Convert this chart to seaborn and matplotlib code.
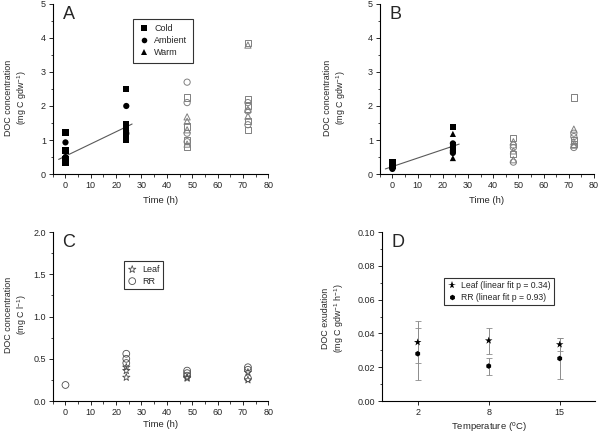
import numpy as np
import pandas as pd
import matplotlib
matplotlib.use("Agg")
import matplotlib.pyplot as plt
import seaborn as sns

# --- Panel A: DOC per gdw, filled = 0-24 h, open = 48-72 h ---
a_cold_t = [0, 0, 0, 0, 24, 24, 24, 24, 24]
a_cold_y = [1.22, 0.69, 0.45, 0.33, 2.5, 1.47, 1.3, 1.15, 1.0]
a_amb_t = [0, 0, 0, 24, 24]
a_amb_y = [0.93, 0.5, 0.4, 2.0, 1.2]
a_warm_t = [0, 0, 24, 24]
a_warm_y = [0.42, 0.36, 1.35, 1.25]
a_cold_open_t = [48, 48, 48, 48, 72, 72, 72, 72, 72]
a_cold_open_y = [2.25, 1.4, 1.0, 0.8, 3.86, 2.2, 2.0, 1.55, 1.3]
a_amb_open_t = [48, 48, 48, 48, 72, 72, 72]
a_amb_open_y = [2.7, 2.1, 1.2, 0.95, 2.1, 1.85, 1.45]
a_warm_open_t = [48, 48, 48, 48, 72, 72, 72]
a_warm_open_y = [1.68, 1.55, 1.3, 0.88, 3.79, 1.9, 1.7]
a_fit_x = [-2.7, 26.3]
a_fit_y = [0.43, 1.47]

# --- Panel B ---
b_cold_t = [0, 0, 24, 24, 24]
b_cold_y = [0.35, 0.25, 1.38, 0.85, 0.72]
b_amb_t = [0, 0, 24, 24, 24, 24]
b_amb_y = [0.2, 0.15, 0.9, 0.78, 0.68, 0.62]
b_warm_t = [0, 0, 24, 24, 24, 24]
b_warm_y = [0.28, 0.22, 1.18, 0.88, 0.8, 0.47]
b_cold_open_t = [48, 48, 72, 72, 72]
b_cold_open_y = [1.05, 0.6, 2.25, 1.0, 0.88]
b_amb_open_t = [48, 48, 48, 72, 72, 72]
b_amb_open_y = [0.85, 0.78, 0.35, 1.2, 1.1, 0.78]
b_warm_open_t = [48, 48, 48, 72, 72, 72]
b_warm_open_y = [0.95, 0.68, 0.42, 1.32, 0.95, 0.85]
b_fit_x = [-2.8, 26.5]
b_fit_y = [0.15, 0.88]

# --- Panel C: DOC per litre ---
c_leaf_t = [24, 24, 24, 48, 48, 72, 72]
c_leaf_y = [0.28, 0.36, 0.40, 0.27, 0.28, 0.25, 0.34]
c_rr_t = [0, 24, 24, 24, 48, 48, 48, 72, 72, 72]
c_rr_y = [0.19, 0.45, 0.50, 0.56, 0.30, 0.33, 0.36, 0.27, 0.37, 0.40]

# --- Panel D: exudation vs temperature ---
temps = ["2", "8", "15"]
d_leaf = [0.0348, 0.0358, 0.0335]
d_leaf_err = [0.0124, 0.0077, 0.0036]
d_rr = [0.0280, 0.0207, 0.0252]
d_rr_err = [0.0155, 0.0050, 0.0124]

treatments = ["Cold", "Ambient", "Warm"]
shape = {"Cold": "s", "Ambient": "o", "Warm": "^"}

sns.set_style("ticks")
plt.rcParams["font.family"] = ["Liberation Sans", "DejaVu Sans"]
plt.rcParams["mathtext.default"] = "regular"
plt.rcParams["xtick.direction"] = "out"
plt.rcParams["ytick.direction"] = "out"

XLABEL_FS = 6.8
YLABEL_FS = 6.4


def frame(t, y, name):
    return pd.DataFrame({"time": t, "conc": y, "treatment": name})


def style_axis(ax, letter):
    sns.despine(ax=ax)
    for s in ["left", "bottom"]:
        ax.spines[s].set_linewidth(0.8)
        ax.spines[s].set_color("black")
    ax.tick_params(which="major", length=3, width=0.7, labelsize=6.5, pad=2)
    ax.tick_params(which="minor", length=1.8, width=0.6)
    ax.text(0.045, 0.94, letter, transform=ax.transAxes, fontsize=13,
            va="center", ha="left")


fig = plt.figure(figsize=(6, 4.34), dpi=100)
axA = fig.add_axes([0.088, 0.599, 0.359, 0.392])
axB = fig.add_axes([0.633, 0.599, 0.357, 0.392])
axC = fig.add_axes([0.088, 0.076, 0.359, 0.389])
axD = fig.add_axes([0.637, 0.076, 0.355, 0.389])

panels = [
    (axA, "A", [(a_cold_t, a_cold_y), (a_amb_t, a_amb_y), (a_warm_t, a_warm_y)],
     [(a_cold_open_t, a_cold_open_y), (a_amb_open_t, a_amb_open_y), (a_warm_open_t, a_warm_open_y)],
     a_fit_x, a_fit_y),
    (axB, "B", [(b_cold_t, b_cold_y), (b_amb_t, b_amb_y), (b_warm_t, b_warm_y)],
     [(b_cold_open_t, b_cold_open_y), (b_amb_open_t, b_amb_open_y), (b_warm_open_t, b_warm_open_y)],
     b_fit_x, b_fit_y),
]

for ax, letter, filled, opened, fx, fy in panels:
    df_f = pd.concat([frame(t, y, n) for (t, y), n in zip(filled, treatments)])
    ax.plot(fx, fy, color="0.35", lw=0.8, zorder=1)
    sns.scatterplot(data=df_f, x="time", y="conc", style="treatment",
                    markers=shape, color="black", s=20, linewidth=0,
                    ax=ax, legend=(letter == "A"), zorder=3)
    for (t, y), n in zip(opened, treatments):
        ax.scatter(t, y, marker=shape[n], s=20, facecolors="none",
                   edgecolors="0.5", linewidths=0.7, zorder=2)
    ax.set_xlim(-5, 80)
    ax.set_ylim(0, 5)
    ax.set_xticks(range(0, 81, 10))
    ax.set_xticks(range(-5, 80, 10), minor=True)
    ax.set_yticks(range(0, 6))
    ax.set_yticks(np.arange(0.5, 5, 1), minor=True)
    ax.set_xlabel("Time (h)", fontsize=XLABEL_FS)
    ax.set_ylabel("DOC concentration\n(mg C gdw$^{-1}$)", fontsize=YLABEL_FS,
                  linespacing=1.25)
    style_axis(ax, letter)

axA.yaxis.set_label_coords(-0.11, 0.45)
axB.yaxis.set_label_coords(-0.15, 0.45)
leg = axA.legend(loc="upper left", bbox_to_anchor=(0.35, 0.94), fontsize=6.5,
                 frameon=True, fancybox=False, edgecolor="black",
                 handlelength=1.2, handletextpad=0.6, borderpad=0.6,
                 labelspacing=0.35, markerscale=0.9)
leg.get_frame().set_linewidth(0.8)

# Panel C
df_c = pd.concat([frame(c_leaf_t, c_leaf_y, "Leaf"), frame(c_rr_t, c_rr_y, "RR")])
for name, mk, sz in [("Leaf", "*", 30), ("RR", "o", 24)]:
    sub = df_c[df_c["treatment"] == name]
    axC.scatter(sub["time"], sub["conc"], marker=mk, s=sz, facecolors="none",
                edgecolors="0.3", linewidths=0.6, label=name)
axC.set_xlim(-5, 80)
axC.set_ylim(0, 2)
axC.set_xticks(range(0, 81, 10))
axC.set_xticks(range(-5, 80, 10), minor=True)
axC.set_yticks(np.arange(0, 2.01, 0.5))
axC.set_yticks(np.arange(0.25, 2, 0.5), minor=True)
axC.set_yticklabels([f"{v:.1f}" for v in np.arange(0, 2.01, 0.5)])
axC.set_xlabel("Time (h)", fontsize=XLABEL_FS, labelpad=2)
axC.set_ylabel("DOC concentration\n(mg C l$^{-1}$)", fontsize=YLABEL_FS,
               linespacing=1.25)
axC.yaxis.set_label_coords(-0.11, 0.51)
style_axis(axC, "C")
leg = axC.legend(loc="upper left", bbox_to_anchor=(0.31, 0.855), fontsize=6.5,
                 frameon=True, fancybox=False, edgecolor="black",
                 handlelength=1.0, handletextpad=0.6, borderpad=0.4,
                 labelspacing=0.3)
leg.get_frame().set_linewidth(0.8)

# Panel D
pos = np.arange(len(temps))
axD.errorbar(pos, d_leaf, yerr=d_leaf_err, fmt="none", ecolor="0.55",
             elinewidth=0.7, capsize=2, capthick=0.6, zorder=1)
axD.errorbar(pos, d_rr, yerr=d_rr_err, fmt="none", ecolor="0.55",
             elinewidth=0.7, capsize=2, capthick=0.6, zorder=1)
df_d = pd.DataFrame({"temp": temps * 2, "rate": d_leaf + d_rr,
                     "type": ["Leaf (linear fit p = 0.34)"] * 3 + ["RR (linear fit p = 0.93)"] * 3})
sns.scatterplot(data=df_d, x="temp", y="rate", style="type",
                markers=["*", "h"], size="type", sizes=[32, 16],
                color="black", linewidth=0, ax=axD, zorder=3)
axD.set_xlim(-0.5, 2.5)
axD.set_ylim(0, 0.1)
axD.set_yticks(np.arange(0, 0.101, 0.02))
axD.set_yticks(np.arange(0.01, 0.1, 0.02), minor=True)
axD.set_yticklabels([f"{v:.2f}" for v in np.arange(0, 0.101, 0.02)])
axD.set_xlabel("Temperature ($^{o}$C)", fontsize=XLABEL_FS, labelpad=2)
axD.set_ylabel("DOC exudation\n(mg C gdw$^{-1}$ h$^{-1}$)", fontsize=YLABEL_FS,
               linespacing=1.25)
axD.yaxis.set_label_coords(-0.17, 0.49)
style_axis(axD, "D")
leg = axD.legend(loc="upper left", bbox_to_anchor=(0.27, 0.755), fontsize=6.2,
                 frameon=True, fancybox=False, edgecolor="black",
                 handlelength=1.0, handletextpad=0.6, borderpad=0.4,
                 labelspacing=0.3)
leg.get_frame().set_linewidth(0.8)

fig.savefig("out.png", dpi=100)
plt.close(fig)
